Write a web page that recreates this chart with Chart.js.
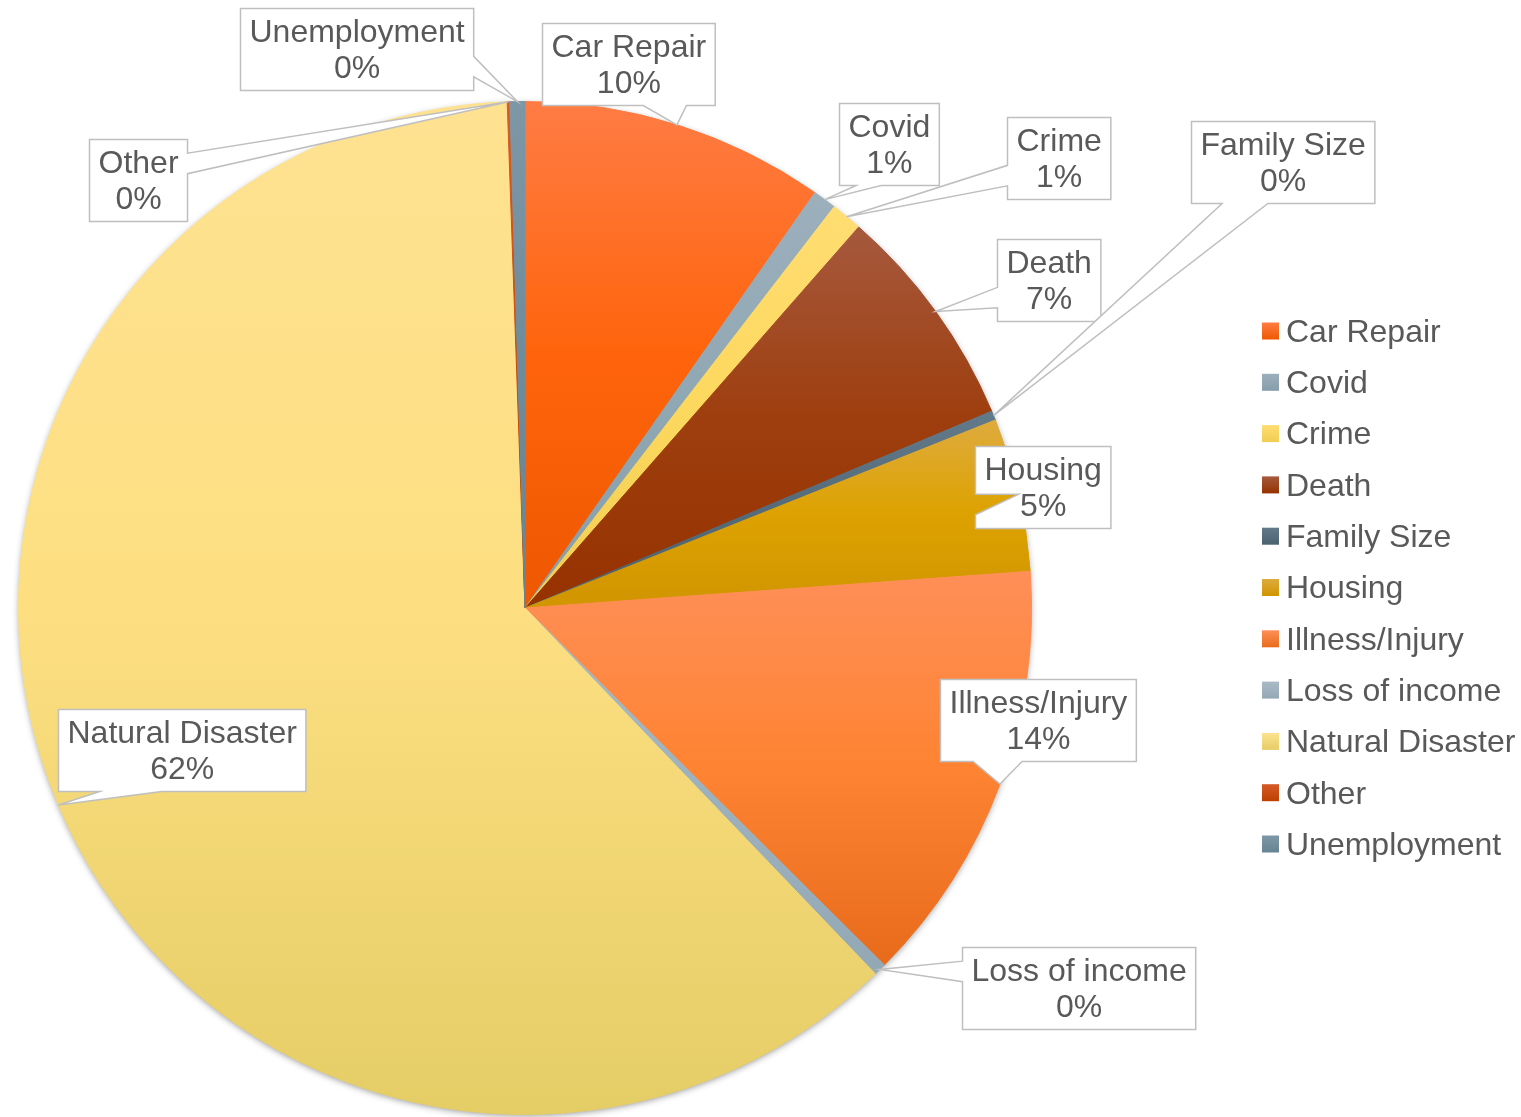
<!DOCTYPE html>
<html lang="en">
<head>
<meta charset="utf-8">
<title>Reasons for assistance</title>
<script src="https://cdn.jsdelivr.net/npm/chart.js@4.4.1/dist/chart.umd.min.js"></script>
<style>
    html, body { margin: 0; padding: 0; background: #ffffff; }
    #reasons { display: block; }
</style>
</head>
<body>
<canvas id="reasons" width="1521" height="1117"></canvas>
<script>
// Share of requests per reason (percent)
const categories = ['Car Repair', 'Covid', 'Crime', 'Death', 'Family Size', 'Housing',
    'Illness/Injury', 'Loss of income', 'Natural Disaster', 'Other', 'Unemployment'];
const shares = [9.7, 0.75, 1.0, 7.2, 0.3, 4.9, 13.6, 0.4, 61.6, 0.08, 0.48];

// Slice fills: light tint at the top, base colour, darker shade at the bottom
const fillTop    = ['#ff7c44', '#9cb0bc', '#ffdd72', '#a6593e', '#627a89', '#deab3e', '#ff8f58', '#a9bac5', '#fee291', '#d65a26', '#7e97a6'];
const fillMid    = ['#ff640c', '#90a7b4', '#fdd85e', '#9e3e0e', '#536b7a', '#dda200', '#fe8332', '#9db1bd', '#fddf81', '#cc4a0c', '#6f8c9c'];
const fillBottom = ['#ee5800', '#869dab', '#f1cd52', '#963200', '#4a6170', '#d09500', '#e76b1b', '#93a8b5', '#e5cd66', '#bd4000', '#668494'];

// Where each callout box sits, relative to the rim point at the middle of its slice
const calloutDx = [-49, 64, 212, 113, 289, 24, 38, 199, 123, -370, -161];
const calloutDy = [-61, -56, -59, -32, -254, -7, -64, 19, -55, 78, -53];

const FONT = '"Liberation Sans", Arial, sans-serif';
const TEXT_COLOR = '#595959';

document.addEventListener('DOMContentLoaded', () => {
    const canvas = document.getElementById('reasons');
    const total = shares.reduce((a, b) => a + b, 0);

    function percentText(i) {
        return Math.round(shares[i] / total * 100) + '%';
    }

    // vertical gradient over the bounding box of one slice
    function sliceFill(context) {
        const chart = context.chart;
        const i = context.dataIndex;
        const area = chart.chartArea;
        if (!area) return fillMid[i];
        const cx = (area.left + area.right) / 2;
        const cy = (area.top + area.bottom) / 2;
        const r = Math.min(area.width, area.height) / 2;
        const before = shares.slice(0, i).reduce((a, b) => a + b, 0);
        const a0 = -Math.PI / 2 + 2 * Math.PI * before / total;
        const a1 = a0 + 2 * Math.PI * shares[i] / total;
        const ys = [cy, cy + r * Math.sin(a0), cy + r * Math.sin(a1)];
        if (a0 <= -Math.PI / 2 + 1e-6 || a1 >= 1.5 * Math.PI - 1e-6) ys.push(cy - r);
        if (a0 <= Math.PI / 2 && a1 >= Math.PI / 2) ys.push(cy + r);
        const top = Math.min(...ys);
        const bottom = Math.max(...ys);
        const g = chart.ctx.createLinearGradient(0, top, 0, Math.max(bottom, top + 1));
        g.addColorStop(0, fillTop[i]);
        g.addColorStop(0.5, fillMid[i]);
        g.addColorStop(1, fillBottom[i]);
        return g;
    }

    // soft drop shadow under the whole pie
    const pieShadow = {
        id: 'pieShadow',
        beforeDatasetsDraw(chart) {
            const arc = chart.getDatasetMeta(0).data[0];
            const ctx = chart.ctx;
            ctx.save();
            ctx.shadowColor = 'rgba(0, 0, 0, 0.45)';
            ctx.shadowBlur = 7;
            ctx.shadowOffsetY = 2;
            ctx.fillStyle = '#e9d27a';
            ctx.beginPath();
            ctx.arc(arc.x, arc.y, arc.outerRadius - 1, 0, Math.PI * 2);
            ctx.fill();
            ctx.restore();
        }
    };

    // rectangle with a wedge pointing at (px, py), same geometry as an Office wedgeRectCallout
    function calloutPath(ctx, l, t, w, h, px, py) {
        const r = l + w, b = t + h;
        const dx = px - (l + w / 2);
        const dy = py - (t + h / 2);
        const dz = Math.abs(dy) - Math.abs(dx * h / w);
        const x1 = l + w * (dx > 0 ? 7 : 2) / 12;
        const x2 = l + w * (dx > 0 ? 10 : 5) / 12;
        const y1 = t + h * (dy > 0 ? 7 : 2) / 12;
        const y2 = t + h * (dy > 0 ? 10 : 5) / 12;
        ctx.beginPath();
        ctx.moveTo(l, t);
        if (dz > 0 && dy < 0) { ctx.lineTo(x1, t); ctx.lineTo(px, py); ctx.lineTo(x2, t); }
        ctx.lineTo(r, t);
        if (dz <= 0 && dx > 0) { ctx.lineTo(r, y1); ctx.lineTo(px, py); ctx.lineTo(r, y2); }
        ctx.lineTo(r, b);
        if (dz > 0 && dy > 0) { ctx.lineTo(x2, b); ctx.lineTo(px, py); ctx.lineTo(x1, b); }
        ctx.lineTo(l, b);
        if (dz <= 0 && dx < 0) { ctx.lineTo(l, y2); ctx.lineTo(px, py); ctx.lineTo(l, y1); }
        ctx.closePath();
    }

    // category name + percentage in a white callout for every slice
    const callouts = {
        id: 'callouts',
        afterDatasetsDraw(chart) {
            const ctx = chart.ctx;
            const arcs = chart.getDatasetMeta(0).data;
            ctx.save();
            ctx.font = '32px ' + FONT;
            ctx.textAlign = 'center';
            ctx.textBaseline = 'middle';
            arcs.forEach((arc, i) => {
                const mid = (arc.startAngle + arc.endAngle) / 2;
                const px = arc.x + Math.cos(mid) * arc.outerRadius;
                const py = arc.y + Math.sin(mid) * arc.outerRadius;
                const lines = [categories[i], percentText(i)];
                const w = Math.max(...lines.map(s => ctx.measureText(s).width)) + 18;
                const h = 82;
                const cx = px + calloutDx[i];
                const cy = py + calloutDy[i];
                const l = Math.round(cx - w / 2) + 0.5;
                const t = Math.round(cy - h / 2) + 0.5;
                calloutPath(ctx, l, t, w, h, px, py);
                ctx.fillStyle = '#ffffff';
                ctx.fill();
                ctx.strokeStyle = '#bfbfbf';
                ctx.lineWidth = 1.5;
                ctx.stroke();
                ctx.fillStyle = TEXT_COLOR;
                ctx.fillText(lines[0], l + w / 2, t + 25);
                ctx.fillText(lines[1], l + w / 2, t + 61);
            });
            ctx.restore();
        }
    };

    // legend column to the right of the pie
    const sideLegend = {
        id: 'sideLegend',
        afterDraw(chart) {
            const ctx = chart.ctx;
            const x = chart.chartArea.right + 230;
            const y0 = 331;
            const step = 51.3;
            const box = 17;
            ctx.save();
            ctx.font = '32px ' + FONT;
            ctx.textAlign = 'left';
            ctx.textBaseline = 'middle';
            categories.forEach((name, i) => {
                const y = y0 + i * step;
                const g = ctx.createLinearGradient(0, y - box / 2, 0, y + box / 2);
                g.addColorStop(0, fillTop[i]);
                g.addColorStop(1, fillBottom[i]);
                ctx.fillStyle = g;
                ctx.fillRect(x, y - box / 2, box, box);
                ctx.fillStyle = TEXT_COLOR;
                ctx.fillText(name, x + box + 7, y + 2);
            });
            ctx.restore();
        }
    };

    new Chart(canvas, {
        type: 'pie',
        data: {
            labels: categories,
            datasets: [{
                data: shares,
                backgroundColor: sliceFill,
                borderColor: sliceFill,
                borderWidth: 1,
                hoverOffset: 0,
            }],
        },
        options: {
            responsive: false,
            animation: false,
            events: [],
            layout: { padding: { left: 18, top: 101, right: 489, bottom: 2 } },
            plugins: {
                legend: { display: false },
                tooltip: { enabled: false },
            },
        },
        plugins: [pieShadow, callouts, sideLegend],
    });
});
</script>
</body>
</html>
